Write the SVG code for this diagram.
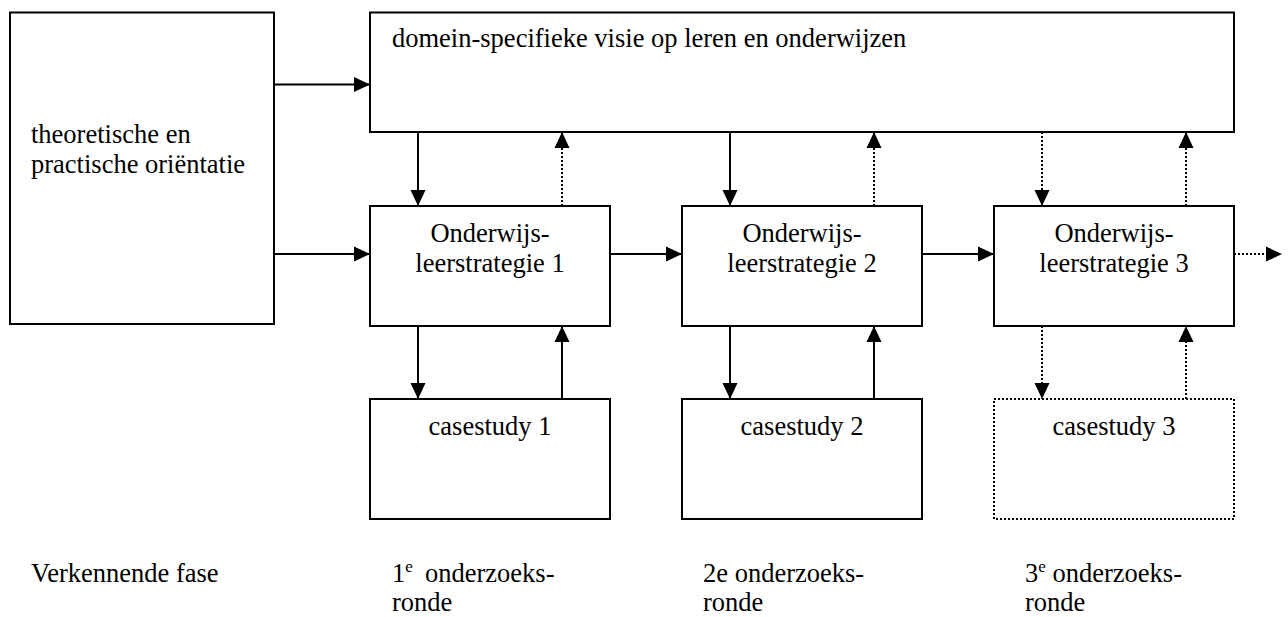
<svg xmlns="http://www.w3.org/2000/svg" width="1288" height="617" viewBox="0 0 1288 617">
  <style>
    .box { fill: #ffffff; stroke: #000000; stroke-width: 2; }
    .dotbox { fill: #ffffff; stroke: #000000; stroke-width: 2; stroke-dasharray: 2 2; }
    .lbl { font-family: "Liberation Serif", "Times New Roman", serif; font-size: 26.5px; fill: #000000; }
    .mid { text-anchor: middle; }
    .sup { font-size: 17px; }
    .link { stroke: #000000; stroke-width: 2; fill: none; marker-end: url(#head); }
    .dot { stroke-dasharray: 2 2; }
  </style>
  <defs>
    <marker id="head" markerUnits="userSpaceOnUse" markerWidth="18" markerHeight="18" refX="16" refY="8" orient="auto" viewBox="0 0 18 18">
      <path d="M0,0.5 L16,8 L0,15.5 Z" fill="#000000"/>
    </marker>
  </defs>
  <rect width="1288" height="617" fill="#ffffff"/>

  <!-- connectors -->
  <g id="connectors">
    <line class="link" x1="274" y1="84.5" x2="370" y2="84.5"/>
    <line class="link" x1="274" y1="254" x2="370" y2="254"/>
    <line class="link" x1="418" y1="132" x2="418" y2="206"/>
    <line class="link dot" x1="562" y1="206" x2="562" y2="132"/>
    <line class="link" x1="610" y1="254" x2="682" y2="254"/>
    <line class="link" x1="730" y1="132" x2="730" y2="206"/>
    <line class="link dot" x1="874" y1="206" x2="874" y2="132"/>
    <line class="link" x1="922" y1="254" x2="994" y2="254"/>
    <line class="link dot" x1="1042" y1="132" x2="1042" y2="206"/>
    <line class="link dot" x1="1186" y1="206" x2="1186" y2="132"/>
    <line class="link dot" x1="1234" y1="254" x2="1282" y2="254"/>
    <line class="link" x1="418" y1="326" x2="418" y2="399"/>
    <line class="link" x1="562" y1="399" x2="562" y2="326"/>
    <line class="link" x1="730" y1="326" x2="730" y2="399"/>
    <line class="link" x1="874" y1="399" x2="874" y2="326"/>
    <line class="link dot" x1="1042" y1="326" x2="1042" y2="399"/>
    <line class="link dot" x1="1186" y1="399" x2="1186" y2="326"/>
  </g>

  <g id="orientatie">
    <rect class="box" x="10" y="12.5" width="264" height="311.5"/>
    <text class="lbl" x="31" y="143">theoretische en</text>
    <text class="lbl" x="31" y="173">practische oriëntatie</text>
  </g>

  <g id="visie">
    <rect class="box" x="370" y="12.5" width="864" height="119.5"/>
    <text class="lbl" x="392" y="47">domein-specifieke visie op leren en onderwijzen</text>
  </g>

  <g id="strategie1">
    <rect class="box" x="370" y="206" width="240" height="120"/>
    <text class="lbl mid" x="490" y="242">Onderwijs-</text>
    <text class="lbl mid" x="490" y="272">leerstrategie 1</text>
  </g>

  <g id="strategie2">
    <rect class="box" x="682" y="206" width="240" height="120"/>
    <text class="lbl mid" x="802" y="242">Onderwijs-</text>
    <text class="lbl mid" x="802" y="272">leerstrategie 2</text>
  </g>

  <g id="strategie3">
    <rect class="box" x="994" y="206" width="240" height="120"/>
    <text class="lbl mid" x="1114" y="242">Onderwijs-</text>
    <text class="lbl mid" x="1114" y="272">leerstrategie 3</text>
  </g>

  <g id="casestudy1">
    <rect class="box" x="370" y="399" width="240" height="120"/>
    <text class="lbl mid" x="490" y="435">casestudy 1</text>
  </g>

  <g id="casestudy2">
    <rect class="box" x="682" y="399" width="240" height="120"/>
    <text class="lbl mid" x="802" y="435">casestudy 2</text>
  </g>

  <g id="casestudy3">
    <rect class="dotbox" x="994" y="399" width="240" height="120"/>
    <text class="lbl mid" x="1114" y="435">casestudy 3</text>
  </g>

  <!-- phase labels along the bottom -->
  <g id="fasen">
    <text class="lbl" x="31" y="582">Verkennende fase</text>
    <text class="lbl" x="392" y="582">1<tspan class="sup" dy="-10">e</tspan><tspan dy="10" x="425">onderzoeks-</tspan></text>
    <text class="lbl" x="392" y="611">ronde</text>
    <text class="lbl" x="703" y="582">2e onderzoeks-</text>
    <text class="lbl" x="703" y="611">ronde</text>
    <text class="lbl" x="1025" y="582">3<tspan class="sup" dy="-10">e</tspan><tspan dy="10" x="1052.5">onderzoeks-</tspan></text>
    <text class="lbl" x="1025" y="611">ronde</text>
  </g>
</svg>
